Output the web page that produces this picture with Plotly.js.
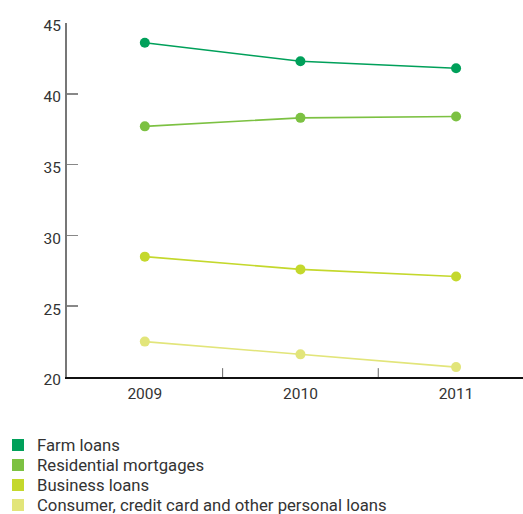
<!DOCTYPE html>
<html>
<head>
<meta charset="utf-8">
<script src="https://cdn.plot.ly/plotly-3.0.1.min.js"></script>
<style>
  html, body { margin: 0; padding: 0; background: #fff; }
  #chart { width: 523px; height: 514px; }
</style>
</head>
<body>
<div id="chart"></div>
<script>
// Loan categories by year
const years = ['2009', '2010', '2011'];
const seriesNames = [
  'Farm loans',
  'Residential mortgages',
  'Business loans',
  'Consumer, credit card and other personal loans'
];
const farmLoans = [43.6, 42.3, 41.8];
const residentialMortgages = [37.7, 38.3, 38.4];
const businessLoans = [28.5, 27.6, 27.1];
const consumerLoans = [22.5, 21.6, 20.7];
const yTicks = [20, 25, 30, 35, 40, 45];

const seriesValues = [farmLoans, residentialMortgages, businessLoans, consumerLoans];
const colors = ['#00a05a', '#7cc142', '#c4d82c', '#e2e57a'];

// Plot box in pixels (used to place the key below the axes)
const W = 523, H = 514;
const M = { l: 67, r: 0, t: 23, b: 137 };
const plotW = W - M.l - M.r, plotH = H - M.t - M.b;
const px2x = px => (px - M.l) / plotW;
const px2y = py => (H - M.b - py) / plotH;

const traces = seriesValues.map((vals, i) => ({
  x: years, y: vals, type: 'scatter', mode: 'lines+markers',
  name: seriesNames[i], showlegend: false, cliponaxis: false,
  line: { color: colors[i], width: 1.6 },
  marker: { color: colors[i], size: 10 }
}));

// Key: coloured squares with labels, one row per series
const keyTop = 445, keyStep = 20;
const keyShapes = seriesNames.map((n, i) => ({
  type: 'rect', xref: 'paper', yref: 'paper',
  xsizemode: 'pixel', ysizemode: 'pixel',
  xanchor: px2x(18), yanchor: px2y(keyTop + i * keyStep),
  x0: -6, x1: 6, y0: -6, y1: 6,
  fillcolor: colors[i], line: { width: 0 }
}));
const keyLabels = seriesNames.map((n, i) => ({
  text: n, showarrow: false, xref: 'paper', yref: 'paper',
  x: px2x(35), y: px2y(keyTop + i * keyStep),
  xanchor: 'left', yanchor: 'middle',
  font: { size: 16.7, color: '#333' }
}));

// Small separators between year categories on the x axis
const sepShapes = [0.5, 1.5].map(v => ({
  type: 'line', xref: 'x', yref: 'paper', x0: v, x1: v, y0: 0, y1: 0.025,
  line: { color: '#666', width: 1 }
}));

const layout = {
  width: W, height: H,
  margin: Object.assign({ autoexpand: false }, M),
  paper_bgcolor: '#fff', plot_bgcolor: '#fff',
  font: { family: 'Roboto, sans-serif', size: 15.5, color: '#333' },
  showlegend: false,
  xaxis: {
    type: 'category', range: [-0.5, 2.43],
    showgrid: false, zeroline: false,
    showline: true, linecolor: '#111', linewidth: 1.5,
    ticks: '', tickfont: { size: 15.5, color: '#333' }, ticklabelstandoff: 2
  },
  yaxis: {
    range: [20, 45], tickvals: yTicks,
    showgrid: false, zeroline: false,
    showline: true, linecolor: '#777', linewidth: 2,
    ticks: 'inside', ticklen: 11, tickcolor: '#888', tickwidth: 1.5,
    tickfont: { size: 15.5, color: '#333' }, ticklabelstandoff: 1,
    ticklabelshift: 3
  },
  shapes: sepShapes.concat(keyShapes),
  annotations: keyLabels
};

Plotly.newPlot('chart', traces, layout, { displayModeBar: false, staticPlot: true });
</script>
</body>
</html>
